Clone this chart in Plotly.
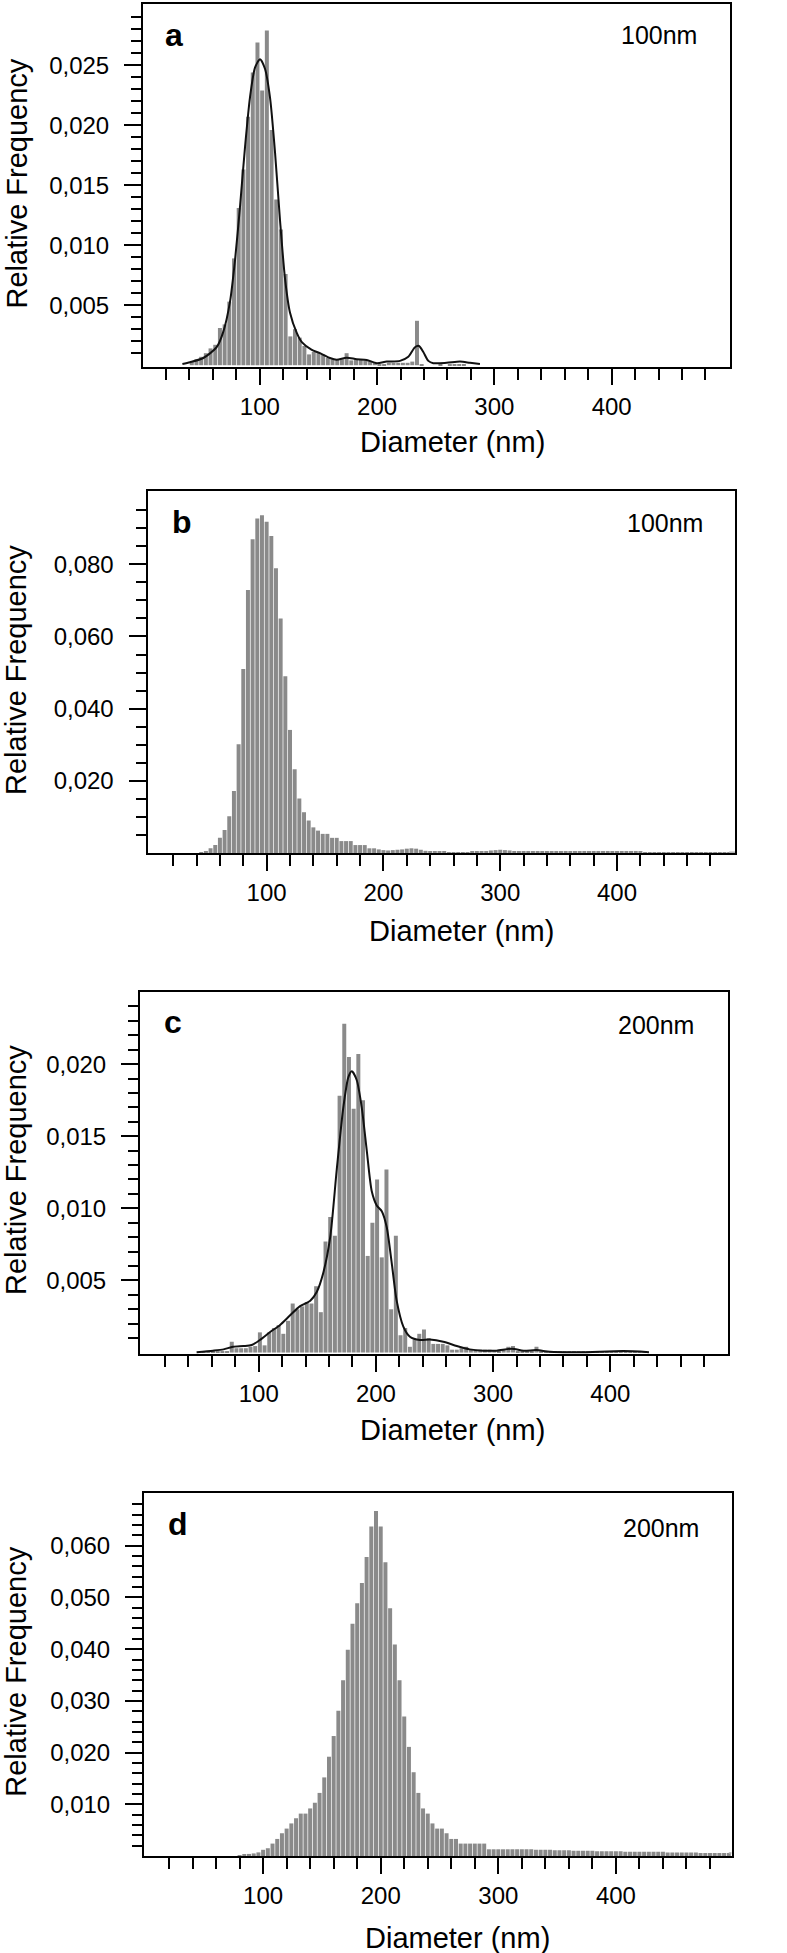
import plotly.graph_objects as go

W, H = 787, 1953

# ---------------- data ----------------
# panel a : 100nm
a_centers = list(range(42, 278, 4))
a_freq = [0.0003, 0.0005, 0.0007, 0.0010, 0.0014, 0.0017, 0.0031, 0.0034, 0.0053, 0.0089,
          0.0131, 0.0163, 0.0207, 0.0244, 0.0269, 0.0229, 0.0279, 0.0196, 0.0138, 0.0113,
          0.0076, 0.0024, 0.0030, 0.0023, 0.0016, 0.0009, 0.0011, 0.0010, 0.0009, 0.0006,
          0.0005, 0.0005, 0.0005, 0.0010, 0.0004, 0.0005, 0.0005, 0.0004, 0.0003, 0.0002,
          0.0001, 0.0001, 0.0002, 0.0002, 0.0002, 0.0002, 0.0002, 0.0003, 0.0037, 0.0001,
          0.0, 0.0, 0.0, 0.0001, 0.0, 0.0001, 0.0001, 0.0001, 0.0001]
a_curve_x = [34, 40.5, 51.8, 63.2, 68.9, 74.6, 78.9, 83.1, 87.4, 91.6, 95.9, 100.2, 104.4,
             108.7, 113, 117.2, 121.5, 125.7, 131.5, 136, 144, 151.3, 159.8, 165.5, 174,
             182.6, 191.1, 199.7, 208.2, 219.5, 226.6, 232.3, 235.7, 239.4, 243.7, 247.9,
             259.3, 270.7, 279.2, 287.7]
a_curve_y = [0.0001, 0.00025, 0.0006, 0.0015, 0.0028, 0.0053, 0.0088, 0.0132, 0.0182, 0.0223,
             0.0248, 0.0255, 0.0247, 0.0223, 0.0177, 0.0121, 0.0072, 0.0044, 0.0027, 0.0019,
             0.0013, 0.0010, 0.0006, 0.00045, 0.00063, 0.0005, 0.00044, 0.00017, 0.0003,
             0.00036, 0.0007, 0.0015, 0.0016, 0.0011, 0.00036, 0.00017, 0.0002, 0.0003,
             0.0002, 0.0001]

# panel b : 100nm
b_centers = list(range(44, 548, 4))
b_freq = [0.0002, 0.0005, 0.0013, 0.0022, 0.0042, 0.0064, 0.0102, 0.0172, 0.0301, 0.0510,
          0.0729, 0.0869, 0.0927, 0.0936, 0.0918, 0.0878, 0.0789, 0.0650, 0.0490, 0.0341,
          0.0232, 0.0151, 0.0113, 0.0090, 0.0071, 0.0062, 0.0053, 0.0053, 0.0042, 0.0042,
          0.0033, 0.0033, 0.0033, 0.0022, 0.0022, 0.0022, 0.0013, 0.0013, 0.0010, 0.0008,
          0.0007, 0.0008, 0.0009, 0.0010, 0.0012, 0.0013, 0.0012, 0.0009, 0.0006, 0.0004,
          0.0003, 0.0003, 0.0003, 0.0002, 0.0002, 0.0002, 0.0002, 0.0002, 0.0003, 0.0003,
          0.0004, 0.0005, 0.0007, 0.0008, 0.0009, 0.0008, 0.0007, 0.0005, 0.0004, 0.0003,
          0.0003, 0.0003, 0.0003, 0.0003, 0.0003, 0.0003, 0.0003, 0.0003, 0.0003, 0.0003,
          0.0003, 0.0003, 0.0003, 0.0003, 0.0003, 0.0003, 0.0003, 0.0003, 0.0003, 0.0003,
          0.0003, 0.0003, 0.0003, 0.0003, 0.0003, 0.0002, 0.0002, 0.0002, 0.0002, 0.0002,
          0.0002, 0.0002, 0.0002, 0.0002, 0.0002, 0.0002, 0.0002, 0.0002, 0.0002, 0.0002,
          0.0002, 0.0002, 0.0002, 0.0002, 0.0002, 0.0001, 0.0001, 0.0001, 0.0001, 0.0001,
          0.0001, 0.0001, 0.0001, 0.0001, 0.0001, 0.0001]

# panel c : 200nm
c_centers = list(range(53, 433, 4))
c_freq = [0.00005, 0.0001, 0.0001, 0.0001, 0.0001, 0.0001, 0.00075, 0.0003, 0.0003, 0.0003,
          0.0004, 0.00045, 0.0014, 0.0005, 0.0014, 0.0017, 0.0019, 0.0013, 0.0022, 0.0034,
          0.0030, 0.0032, 0.0035, 0.0034, 0.0046, 0.0028, 0.0077, 0.0094, 0.0081, 0.0178,
          0.0228, 0.0205, 0.0169, 0.0207, 0.0175, 0.0067, 0.0090, 0.0120, 0.0066, 0.0127,
          0.0030, 0.0081, 0.0012, 0.0017, 0.0004, 0.0009, 0.0013, 0.0016, 0.0010, 0.0006,
          0.0006, 0.0006, 0.0005, 0.0002, 0.0002, 0.0003, 0.0004, 0.0002, 0.0002, 0.0002,
          0.0002, 0.0002, 0.00015, 0.0001, 0.0002, 0.0004, 0.00045, 0.0001, 0.0001, 0.0001,
          0.0001, 0.0004, 0.0001, 0.00005, 0.00005, 0.00005, 0.00005, 0.00005, 0.00005, 0.00005,
          0.00005, 0.00005, 0.00005, 0.00005, 0.00005, 0.00005, 0.00005, 0.00005, 0.00005, 0.00005,
          0.0001, 0.0001, 0.00005, 0.00005, 0.00005]
c_curve_x = [47, 61, 70, 78, 87, 94, 101, 110, 118, 127, 135, 144, 149.5, 155, 161, 166.6,
             172.2, 176.5, 179.4, 183.6, 187.9, 192.2, 196.4, 200.7, 205, 209.2, 213.5,
             217.7, 223.4, 229, 237.6, 246, 257.5, 269, 280, 291.6, 303, 316, 326, 337,
             348.5, 374, 411, 433]
c_curve_y = [0.00003, 0.00013, 0.00022, 0.0004, 0.00045, 0.00052, 0.00087, 0.00144, 0.0019,
             0.0026, 0.0032, 0.0036, 0.0042, 0.0055, 0.0080, 0.0127, 0.0170, 0.0191, 0.0195,
             0.0189, 0.0170, 0.0140, 0.0112, 0.0102, 0.0098, 0.0087, 0.0062, 0.0036, 0.0018,
             0.0011, 0.00087, 0.0009, 0.00075, 0.00045, 0.00022, 0.00013, 0.00013, 0.00027,
             0.00013, 0.00017, 0.00005, 0.00002, 0.0001, 0.00003]

# panel d : 200nm
d_centers = list(range(80, 548, 4))
d_freq = [0.0001, 0.0003, 0.0004, 0.0005, 0.0007, 0.0012, 0.0015, 0.0024, 0.0033, 0.0044,
          0.0053, 0.0063, 0.0073, 0.0082, 0.0082, 0.0092, 0.0103, 0.0122, 0.0152, 0.0192,
          0.0232, 0.0281, 0.0340, 0.0399, 0.0449, 0.0489, 0.0528, 0.0578, 0.0637, 0.0667,
          0.0637, 0.0568, 0.0479, 0.0409, 0.0340, 0.0270, 0.0211, 0.0162, 0.0122, 0.0092,
          0.0082, 0.0063, 0.0053, 0.0053, 0.0044, 0.0033, 0.0033, 0.0024, 0.0024, 0.0024,
          0.0024, 0.0024, 0.0024, 0.0013, 0.0013, 0.0013, 0.0013, 0.0013, 0.0013, 0.0013,
          0.0013, 0.0013, 0.0013, 0.0012, 0.0012, 0.0012, 0.0012, 0.0011, 0.0011, 0.0011,
          0.0011, 0.0010, 0.0010, 0.0010, 0.0010, 0.0010, 0.0009, 0.0009, 0.0009, 0.0009,
          0.0009, 0.0009, 0.0008, 0.0008, 0.0008, 0.0008, 0.0008, 0.0008, 0.0008, 0.0008,
          0.0008, 0.0007, 0.0007, 0.0007, 0.0007, 0.0007, 0.0007, 0.0007, 0.0006, 0.0006,
          0.0006, 0.0006, 0.0006, 0.0006, 0.0006, 0.0005, 0.0005, 0.0005, 0.0005, 0.0005,
          0.0005, 0.0005, 0.0005, 0.0005, 0.0005, 0.0005, 0.0005]

x_major = [100, 200, 300, 400]
x_minor = [20, 40, 60, 80, 120, 140, 160, 180, 220, 240, 260, 280, 320, 340, 360, 380,
           420, 440, 460, 480]

panel_letters = ["a", "b", "c", "d"]
panel_sizes = ["100nm", "100nm", "200nm", "200nm"]
x_title = "Diameter (nm)"
y_title = "Relative Frequency"

y_major = [[0.005, 0.010, 0.015, 0.020, 0.025],
           [0.020, 0.040, 0.060, 0.080],
           [0.005, 0.010, 0.015, 0.020],
           [0.010, 0.020, 0.030, 0.040, 0.050, 0.060]]
y_labels = [["0,005", "0,010", "0,015", "0,020", "0,025"],
            ["0,020", "0,040", "0,060", "0,080"],
            ["0,005", "0,010", "0,015", "0,020"],
            ["0,010", "0,020", "0,030", "0,040", "0,050", "0,060"]]
y_minor_step = [0.001, 0.005, 0.001, 0.002]
y_minor_max = [0.029, 0.095, 0.024, 0.068]

# ---------------- layout geometry (pixels) ----------------
frames = [(143, 730, 4, 367), (147.5, 735, 491, 853), (140, 727.5, 992, 1354), (144, 731.5, 1493, 1856)]
x_ranges = [[0.4, 500.9], [-2.0, 501.0], [-1.3, 500.0], [-1.3, 498.3]]
y_ranges = [[-0.00015, 0.0301], [0.0, 0.1003], [-0.0001, 0.0250], [0.0, 0.0702]]

FONT = "Liberation Sans, Arial, Helvetica, sans-serif"
BAR_COLOR = "#8a8a8a"

def px(xp):
    return xp / W

def py(yp):
    return 1 - yp / H

fig = go.Figure()

bar_sets = [(a_centers, a_freq), (b_centers, b_freq), (c_centers, c_freq), (d_centers, d_freq)]
curves = {0: (a_curve_x, a_curve_y), 2: (c_curve_x, c_curve_y)}

for i, (cx, fy) in enumerate(bar_sets):
    xa = "x" if i == 0 else f"x{i+1}"
    ya = "y" if i == 0 else f"y{i+1}"
    inside_x = [c for c in cx if c < 500]
    inside_y = [v for c, v in zip(cx, fy) if c < 500]
    fig.add_trace(go.Bar(x=inside_x, y=inside_y, width=3.4, marker=dict(color=BAR_COLOR, line=dict(width=0)),
                         xaxis=xa, yaxis=ya, hoverinfo="x+y"))
    out_x = [c for c in cx if c >= 496]
    out_y = [v for c, v in zip(cx, fy) if c >= 496]
    if len(out_x) > 1:
        fig.add_trace(go.Scatter(x=out_x, y=out_y, mode="lines", cliponaxis=False,
                                 line=dict(color="#b0b0b0", width=1.5, shape="hv",
                                           dash="dot" if i == 3 else "solid"),
                                 xaxis=xa, yaxis=ya, hoverinfo="skip"))
    if i in curves:
        kx, ky = curves[i]
        fig.add_trace(go.Scatter(x=kx, y=ky, mode="lines",
                                 line=dict(color="#111111", width=2, shape="spline", smoothing=0.7),
                                 xaxis=xa, yaxis=ya))

layout = dict(width=W, height=H, margin=dict(l=0, r=0, t=0, b=0),
              paper_bgcolor="white", plot_bgcolor="white", showlegend=False,
              font=dict(family=FONT, color="black"))

annotations = []
for i in range(4):
    l, r, t, b = frames[i]
    xk = "xaxis" if i == 0 else f"xaxis{i+1}"
    yk = "yaxis" if i == 0 else f"yaxis{i+1}"
    ya = "y" if i == 0 else f"y{i+1}"
    xa = "x" if i == 0 else f"x{i+1}"
    step = y_minor_step[i]
    n_minor = int(round(y_minor_max[i] / step))
    yminor = [round(step * k, 4) for k in range(1, n_minor + 1)]
    yminor = [v for v in yminor if all(abs(v - m) > 1e-9 for m in y_major[i])]
    layout[xk] = dict(domain=[px(l), px(r)], range=x_ranges[i], anchor=ya,
                      showline=True, linecolor="black", linewidth=2, mirror=True,
                      ticks="outside", ticklen=16, tickwidth=2, tickcolor="black",
                      tickmode="array", tickvals=x_major, ticktext=[str(v) for v in x_major],
                      tickfont=dict(family=FONT, size=24, color="black"),
                      ticklabelstandoff=1,
                      minor=dict(tickmode="array", tickvals=x_minor, ticks="outside",
                                 ticklen=11, tickwidth=2, tickcolor="black"),
                      showgrid=False, zeroline=False)
    layout[yk] = dict(domain=[py(b), py(t)], range=y_ranges[i], anchor=xa,
                      showline=True, linecolor="black", linewidth=2, mirror=True,
                      ticks="outside", ticklen=17, tickwidth=2, tickcolor="black",
                      tickmode="array", tickvals=y_major[i], ticktext=y_labels[i],
                      tickfont=dict(family=FONT, size=24, color="black"),
                      ticklabelstandoff=10,
                      minor=dict(tickmode="array", tickvals=yminor, ticks="outside",
                                 ticklen=10, tickwidth=2, tickcolor="black"),
                      showgrid=False, zeroline=False)

# text positions (pixel centres measured on the reference)
letter_pos = [(163, 35), (170, 522), (162, 1022), (165.5, 1523.5)]
size_pos = [(699, 34.6), (705, 522.6), (696, 1024.6), (701, 1527.6)]
xtitle_pos = [(452, 441.5), (461.5, 931), (452.5, 1429.7), (457, 1937.7)]
ytitle_pos = [(16, 183.5), (16, 670), (16, 1170), (16, 1671.7)]

for i in range(4):
    lx, ly = letter_pos[i]
    annotations.append(dict(text=f"<b>{panel_letters[i]}</b>", x=px(lx), y=py(ly), xref="paper", yref="paper",
                            xanchor="left", yanchor="middle", showarrow=False,
                            font=dict(family=FONT, size=32, color="black")))
    sx, sy = size_pos[i]
    annotations.append(dict(text=panel_sizes[i], x=px(sx), y=py(sy), xref="paper", yref="paper",
                            xanchor="right", yanchor="middle", showarrow=False,
                            font=dict(family=FONT, size=25, color="black")))
    tx, ty = xtitle_pos[i]
    annotations.append(dict(text=x_title, x=px(tx), y=py(ty), xref="paper", yref="paper",
                            xanchor="center", yanchor="middle", showarrow=False,
                            font=dict(family=FONT, size=29, color="black")))
    vx, vy = ytitle_pos[i]
    annotations.append(dict(text=y_title, x=px(vx), y=py(vy), xref="paper", yref="paper",
                            xanchor="center", yanchor="middle", showarrow=False, textangle=-90,
                            font=dict(family=FONT, size=29, color="black")))

layout["annotations"] = annotations
fig.update_layout(**layout)
fig.write_html("out.html", config={"displayModeBar": False},
               post_script="document.body.style.margin='0';document.body.style.padding='0';")
